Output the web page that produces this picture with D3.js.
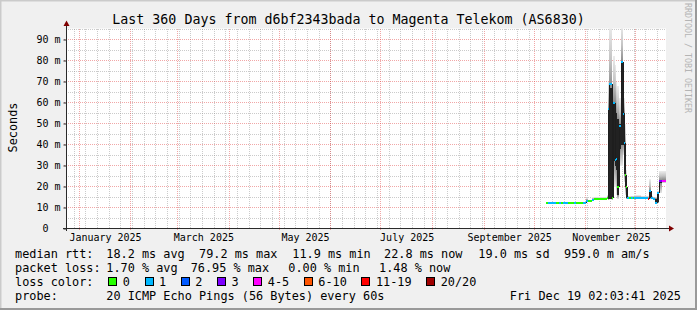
<!DOCTYPE html>
<html>
<head>
<meta charset="utf-8">
<script src="https://cdn.jsdelivr.net/npm/d3@7"></script>
<style>
  html, body { margin: 0; padding: 0; background: #f0f0f0; }
  svg { display: block; }
  text { font-family: "DejaVu Sans Mono", monospace; white-space: pre; }
</style>
</head>
<body>
<div id="graph"></div>
<script>
// ---- chart values ----
const titleText = "Last 360 Days from d6bf2343bada to Magenta Telekom (AS6830)";
const endTime = "2025-12-19T02:03:41Z";
const spanDays = 360;

// one entry per sample, each sample lasts until the next one starts
const sampleStart = [
  "2025-10-08T00:00Z", "2025-10-09T00:00Z", "2025-10-14T00:00Z", "2025-10-16T00:00Z",
  "2025-10-17T00:00Z", "2025-10-18T00:00Z", "2025-10-21T00:00Z", "2025-10-25T00:00Z",
  "2025-10-26T00:00Z", "2025-10-30T00:00Z", "2025-11-01T00:00Z", "2025-11-02T09:00Z",
  "2025-11-04T19:00Z", "2025-11-06T00:00Z", "2025-11-13T14:00Z", "2025-11-14T09:00Z",
  "2025-11-15T04:00Z", "2025-11-16T19:00Z", "2025-11-17T13:00Z", "2025-11-18T10:00Z",
  "2025-11-19T04:00Z", "2025-11-19T23:00Z", "2025-11-20T19:00Z", "2025-11-22T00:00Z",
  "2025-11-23T13:00Z", "2025-11-24T02:00Z", "2025-11-24T14:00Z", "2025-11-25T00:00Z",
  "2025-11-25T14:00Z", "2025-11-27T00:00Z", "2025-11-28T05:00Z", "2025-11-29T13:00Z",
  "2025-11-30T00:00Z", "2025-12-04T00:00Z", "2025-12-08T05:00Z", "2025-12-08T19:00Z",
  "2025-12-10T00:00Z", "2025-12-11T13:00Z", "2025-12-12T18:00Z", "2025-12-13T23:00Z",
  "2025-12-15T04:00Z", "2025-12-16T19:00Z"
];
const medianMs = [
  12.1, 12.1, 12.1, 12.0, 12.1, 12.1, 12.1, 12.2, 12.1, 12.1, 13.3, 13.0,
  13.7, 14.0, 14.5, 57.0, 68.8, 14.5, 60.0, 32.4, 33.0, 20.0, 48.6, 79.2,
  54.5, 40.7, 25.7, 20.0, 14.5, 14.5, 14.5, 14.6, 14.6, 14.4, 14.2, 18.0,
  14.5, 14.2, 12.0, 16.8, 22.6, 22.6
];
const lossCount = [
  0, 1, 0, 1, 0, 1, 0, 1, 0, 1, 1, 0,
  1, 0, 0, 1, 1, 0, 1, 1, 1, 0, 1, 1,
  1, 1, 0, 0, 1, 0, 1, 0, 1, 1, 12, 1,
  1, 1, 1, 1, 3, 4
];
const smokeMin = [
  11.8, 11.8, 11.8, 11.7, 11.8, 11.8, 11.8, 11.8, 11.8, 11.8, 12.4, 12.6,
  13.0, 13.6, 13.9, 13.5, 13.8, 13.6, 20.0, 20.0, 16.0, 14.0, 30.0, 30.0,
  35.0, 22.0, 16.0, 14.0, 14.0, 14.0, 14.0, 14.1, 14.0, 13.9, 13.8, 14.0,
  14.0, 13.8, 11.6, 12.0, 17.0, 21.8
];
const smokeLo = [
  11.9, 11.9, 11.9, 11.9, 11.9, 11.9, 11.9, 12.0, 11.9, 11.9, 12.9, 12.8,
  13.4, 13.8, 14.2, 14.0, 14.2, 14.0, 32.0, 30.0, 28.0, 16.0, 38.0, 40.0,
  40.0, 26.0, 20.0, 14.5, 14.2, 14.2, 14.2, 14.3, 14.3, 14.1, 14.0, 14.5,
  14.2, 14.0, 11.8, 12.5, 21.5, 22.2
];
const smokeHi = [
  12.3, 12.3, 12.3, 12.2, 12.3, 12.3, 12.3, 12.4, 12.3, 12.3, 13.6, 13.3,
  14.0, 14.3, 14.9, 57.0, 67.0, 16.0, 60.0, 60.0, 55.0, 52.0, 50.0, 79.5,
  56.0, 55.0, 40.0, 22.0, 14.8, 14.8, 14.8, 14.9, 14.9, 14.7, 14.6, 18.0,
  14.8, 14.5, 14.2, 16.8, 23.0, 23.2
];
const smokeMax = [
  12.7, 12.8, 12.6, 12.7, 12.6, 12.8, 12.6, 12.8, 12.6, 12.8, 14.4, 13.8,
  14.8, 14.9, 15.8, 70.0, 97.0, 34.0, 82.0, 78.0, 70.0, 68.0, 62.0, 97.0,
  68.0, 62.0, 50.0, 28.0, 15.6, 15.4, 15.6, 15.5, 15.8, 15.5, 15.5, 23.4,
  15.6, 15.2, 15.0, 18.0, 27.3, 27.3
];

const yMax = 95.24;
const yMajorTicks = [0, 10, 20, 30, 40, 50, 60, 70, 80, 90];
const yMinorTicks = [5, 15, 25, 35, 45, 55, 65, 75, 85, 95];
const xLabelMonths = ["2025-01", "2025-03", "2025-05", "2025-07", "2025-09", "2025-11"];

const lossLabels = ["0", "1", "2", "3", "4-5", "6-10", "11-19", "20/20"];
const lossColors = ["#26ff00", "#00b8ff", "#0059ff", "#7e00ff", "#ff00ff", "#ff5500", "#ff0000", "#a00000"];

const rttStats = ["18.2 ms avg", "79.2 ms max", "11.9 ms min", "22.8 ms now", "19.0 ms sd", "959.0 m am/s"];
const lossStats = ["1.70 % avg", "76.95 % max", "0.00 % min", "1.48 % now"];
const probeText = "20 ICMP Echo Pings (56 Bytes) every 60s";
const stampText = "Fri Dec 19 02:03:41 2025";

// ---- drawing ----
const W = 697, H = 310;
const plot = { left: 66, right: 666, top: 28.5, bottom: 228.5 };

function lossClass(n) {
  if (n <= 3) return n;
  if (n <= 5) return 4;
  if (n <= 10) return 5;
  if (n <= 19) return 6;
  return 7;
}
const crisp = v => Math.round(v - 0.5) + 0.5;

const tEnd = new Date(endTime);
const tStart = d3.utcDay.offset(tEnd, -spanDays);

const x = d3.scaleUtc().domain([tStart, tEnd]).range([plot.left, plot.right]);
const y = d3.scaleLinear().domain([0, yMax]).range([plot.bottom, plot.top]);

const samples = sampleStart.map((s, i) => ({
  t0: new Date(s),
  t1: i + 1 < sampleStart.length ? new Date(sampleStart[i + 1]) : tEnd,
  med: medianMs[i],
  loss: lossCount[i],
  min: smokeMin[i], lo: smokeLo[i], hi: smokeHi[i], max: smokeMax[i]
}));

const svg = d3.select("#graph").append("svg")
  .attr("width", W).attr("height", H);

const defs = svg.append("defs");
defs.append("clipPath").attr("id", "plotClip")
  .append("rect")
  .attr("x", plot.left).attr("y", plot.top)
  .attr("width", plot.right - plot.left).attr("height", plot.bottom - plot.top);

const up = defs.append("linearGradient").attr("id", "smokeUp")
  .attr("x1", 0).attr("y1", 1).attr("x2", 0).attr("y2", 0);
up.append("stop").attr("offset", "0%").attr("stop-color", "#8c8c8c");
up.append("stop").attr("offset", "45%").attr("stop-color", "#c4c4c4");
up.append("stop").attr("offset", "100%").attr("stop-color", "#ececec");
const down = defs.append("linearGradient").attr("id", "smokeDown")
  .attr("x1", 0).attr("y1", 0).attr("x2", 0).attr("y2", 1);
down.append("stop").attr("offset", "0%").attr("stop-color", "#8c8c8c");
down.append("stop").attr("offset", "100%").attr("stop-color", "#e6e6e6");

// background and frame
svg.append("rect").attr("width", W).attr("height", H).attr("fill", "#f0f0f0");
svg.append("rect")
  .attr("x", plot.left).attr("y", plot.top)
  .attr("width", plot.right - plot.left).attr("height", plot.bottom - plot.top)
  .attr("fill", "#ffffff");
svg.append("path").attr("d", `M0,${H} V0 H${W}`)
  .attr("stroke", "#cbcbcb").attr("stroke-width", 3).attr("fill", "none");
svg.append("path").attr("d", `M0,${H - 1} H${W - 1} V0`)
  .attr("stroke", "#999999").attr("stroke-width", 2).attr("fill", "none");

// grid
const grid = svg.append("g").attr("shape-rendering", "crispEdges")
  .attr("stroke-dasharray", "1,1").attr("stroke-width", 1);
const minorCol = "rgba(140,140,140,0.45)";
const majorCol = "rgba(225,60,60,0.45)";

const weeks = d3.utcSunday.range(tStart, tEnd);
const months = d3.utcMonth.range(tStart, tEnd);

grid.selectAll(".vminor").data(weeks).join("line")
  .attr("x1", d => crisp(x(d))).attr("x2", d => crisp(x(d)))
  .attr("y1", plot.top).attr("y2", plot.bottom)
  .attr("stroke", minorCol);
grid.selectAll(".hminor").data(yMinorTicks).join("line")
  .attr("x1", plot.left).attr("x2", plot.right)
  .attr("y1", d => crisp(y(d))).attr("y2", d => crisp(y(d)))
  .attr("stroke", minorCol);
grid.selectAll(".vmajor").data(months).join("line")
  .attr("x1", d => crisp(x(d))).attr("x2", d => crisp(x(d)))
  .attr("y1", plot.top).attr("y2", plot.bottom + 2)
  .attr("stroke", majorCol);
grid.selectAll(".hmajor").data(yMajorTicks.filter(d => d > 0)).join("line")
  .attr("x1", plot.left - 2).attr("x2", plot.right)
  .attr("y1", d => crisp(y(d))).attr("y2", d => crisp(y(d)))
  .attr("stroke", majorCol);

// smoke
const smoke = svg.append("g").attr("clip-path", "url(#plotClip)")
  .attr("shape-rendering", "crispEdges");
const colX = d => Math.round(x(d.t0));
const colW = d => Math.max(1, Math.round(x(d.t1)) - Math.round(x(d.t0)));

smoke.selectAll(".smokeTop").data(samples).join("rect")
  .attr("x", colX).attr("width", colW)
  .attr("y", d => y(d.max)).attr("height", d => Math.max(0, y(d.hi) - y(d.max)))
  .attr("fill", "url(#smokeUp)");
smoke.selectAll(".smokeBot").data(samples).join("rect")
  .attr("x", colX).attr("width", colW)
  .attr("y", d => y(d.lo)).attr("height", d => Math.max(0, y(d.min) - y(d.lo)))
  .attr("fill", "url(#smokeDown)");
smoke.selectAll(".smokeCore").data(samples).join("rect")
  .attr("x", colX).attr("width", colW)
  .attr("y", d => y(d.hi)).attr("height", d => Math.max(0, y(d.lo) - y(d.hi)))
  .attr("fill", "#222222");

// median line, coloured by loss
const med = svg.append("g").attr("clip-path", "url(#plotClip)")
  .attr("shape-rendering", "crispEdges");
med.selectAll(".step").data(samples.slice(1)).join("line")
  .attr("x1", d => Math.round(x(d.t0)) + 0.5).attr("x2", d => Math.round(x(d.t0)) + 0.5)
  .attr("y1", (d, i) => y(samples[i].med)).attr("y2", d => y(d.med))
  .attr("stroke", "#1e1e1e").attr("stroke-width", 1);
med.selectAll(".seg").data(samples).join("line")
  .attr("x1", colX).attr("x2", d => colX(d) + colW(d))
  .attr("y1", d => Math.round(y(d.med))).attr("y2", d => Math.round(y(d.med)))
  .attr("stroke", d => lossColors[lossClass(d.loss)]).attr("stroke-width", 2);

// axes
const axisCol = "#2a2a2a";
const yAxis = svg.append("g")
  .attr("transform", `translate(${plot.left + 0.5},0)`)
  .call(d3.axisLeft(y).tickValues(yMajorTicks).tickSize(3).tickPadding(3)
    .tickFormat(d => d === 0 ? "0  " : `${d} m`));
yAxis.select(".domain").remove();
yAxis.selectAll(".tick line").attr("stroke", axisCol)
  .attr("transform", d => `translate(0,${crisp(y(d)) - y(d)})`);
yAxis.selectAll(".tick text")
  .attr("font-family", "DejaVu Sans Mono").attr("font-size", "10px").attr("fill", "#000");

const xAxis = svg.append("g")
  .attr("transform", `translate(0,${plot.bottom})`)
  .call(d3.axisBottom(x)
    .tickValues(xLabelMonths.map(m => {
      const a = d3.utcParse("%Y-%m")(m);
      return new Date((+a + +d3.utcMonth.offset(a, 1)) / 2);
    }))
    .tickSize(0).tickPadding(5.4)
    .tickFormat(d3.utcFormat("%B %Y")));
xAxis.select(".domain").remove();
xAxis.selectAll(".tick text")
  .attr("font-family", "DejaVu Sans Mono").attr("font-size", "10px").attr("fill", "#000");

svg.append("line").attr("shape-rendering", "crispEdges")
  .attr("x1", plot.left - 3).attr("x2", plot.right + 3)
  .attr("y1", plot.bottom).attr("y2", plot.bottom)
  .attr("stroke", axisCol);
svg.append("line").attr("shape-rendering", "crispEdges")
  .attr("x1", plot.left + 0.5).attr("x2", plot.left + 0.5)
  .attr("y1", plot.bottom + 2.5).attr("y2", 24)
  .attr("stroke", axisCol);
svg.append("path")
  .attr("d", `M${plot.left - 2.5},26 L${plot.left + 3.5},26 L${plot.left + 0.5},20.5 Z`)
  .attr("fill", "#7f0000");
svg.append("path")
  .attr("d", `M${plot.right + 3},${plot.bottom - 3} L${plot.right + 3},${plot.bottom + 3} L${plot.right + 8},${plot.bottom} Z`)
  .attr("fill", "#7f0000");

// texts
svg.append("text").attr("x", W / 2).attr("y", 24)
  .attr("text-anchor", "middle").attr("font-size", "13.3px")
  .text(titleText);

svg.append("text")
  .attr("transform", "translate(16.5,127.5) rotate(-90)")
  .attr("text-anchor", "middle").attr("font-size", "11.85px")
  .text("Seconds");

svg.append("text")
  .attr("transform", "translate(685,3) rotate(90)")
  .attr("font-size", "8.3px").attr("fill", "#b4b4b4")
  .text("RRDTOOL / TOBI OETIKER");

const legendSize = "11.85px";
const lineY = [257.8, 272, 286.2, 300.4];
const rttX = [106.3, 199, 292.3, 384, 478.3, 564];
const lossX = [106.3, 190.7, 288.3, 379];

function label(txt, xx, yy) {
  return svg.append("text").attr("x", xx).attr("y", yy)
    .attr("font-size", legendSize).attr("fill", "#000").text(txt);
}

label("median rtt:", 15, lineY[0]);
rttStats.forEach((s, i) => label(s, rttX[i], lineY[0]));
label("packet loss:", 15, lineY[1]);
lossStats.forEach((s, i) => label(s, lossX[i], lineY[1]));
label("loss color:", 15, lineY[2]);

let bx = 108.3;
lossLabels.forEach((l, i) => {
  svg.append("rect")
    .attr("x", Math.round(bx) + 0.5).attr("y", 277.5)
    .attr("width", 8).attr("height", 8)
    .attr("fill", lossColors[i]).attr("stroke", "#000").attr("stroke-width", 1);
  const t = label(l, bx + 14.5, lineY[2]);
  bx = bx + 14.5 + t.node().getComputedTextLength() + 14.6;
});

label("probe:", 15, lineY[3]);
label(probeText, 106.3, lineY[3]);
label(stampText, 681, lineY[3]).attr("text-anchor", "end");
</script>
</body>
</html>
